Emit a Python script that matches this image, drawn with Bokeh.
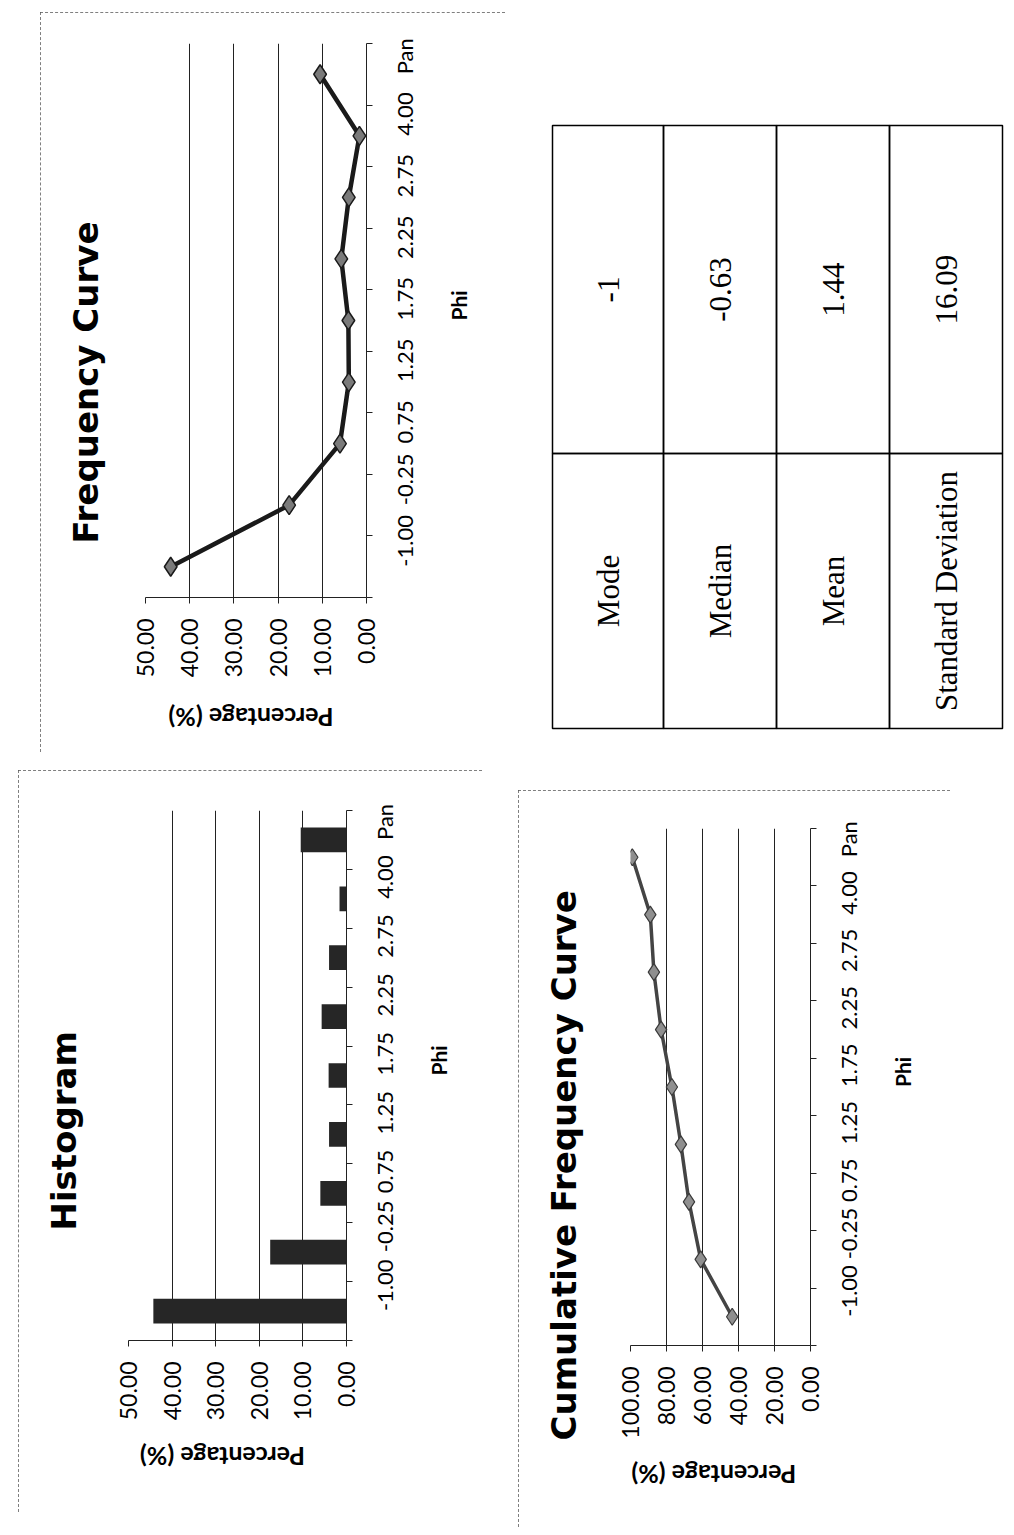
import math
from bokeh.plotting import figure
from bokeh.models import Range1d, FixedTicker, NumeralTickFormatter, Title, Spacer, LinearAxis
from bokeh.layouts import row, column
from bokeh.embed import file_html
from bokeh.resources import INLINE
from bokeh.core.properties import value

# ---------------- data ----------------
phi_labels = ["-1.00", "-0.25", "0.75", "1.25", "1.75", "2.25", "2.75", "4.00", "Pan"]
freq_pct = [44.3, 17.5, 6.0, 4.0, 4.1, 5.7, 4.0, 1.6, 10.5]
cum_pct = [43.5, 61.0, 67.5, 72.0, 77.0, 83.0, 87.0, 89.0, 99.0]
freq_ticks = [0, 10, 20, 30, 40, 50]
cum_ticks = [0, 20, 40, 60, 80, 100]
stat_names = ["Mode", "Median", "Mean", "Standard Deviation"]
stat_values = ["-1", "-0.63", "1.44", "16.09"]

FONT = "Lato"
TITLE_FONT = "DejaVu Sans"
PANEL_STYLE = {"outline": "1px dashed #555555", "outline-offset": "-1px"}
PCT_LABEL_PX = 161  # approx. drawn length of the upside-down percentage title


def make_chart(title, w, h, ml, mr, mt, mb, xmax, ticks, t_offset, t_standoff,
               plab_standoff, plab_shift):
    n = len(phi_labels)
    p = figure(width=w, height=h, x_range=Range1d(xmax, 0), y_range=Range1d(0, n),
               x_axis_location="below", y_axis_location="right",
               output_backend="svg", toolbar_location=None,
               min_border_left=ml, min_border_right=mr,
               min_border_top=mt, min_border_bottom=mb)
    p.outline_line_color = None
    p.background_fill_color = "white"
    p.border_fill_color = "white"

    xa = p.xaxis[0]
    xa.ticker = FixedTicker(ticks=ticks, minor_ticks=[])
    xa.formatter = NumeralTickFormatter(format="0.00")
    xa.major_label_orientation = math.pi / 2
    xa.major_label_text_font = FONT
    xa.major_label_text_font_size = "23px"
    xa.major_label_text_color = "black"
    xa.major_tick_out = 6
    xa.major_tick_in = 0
    xa.major_label_standoff = 15
    xa.axis_line_color = "#222222"
    xa.major_tick_line_color = "#222222"
    xa.minor_tick_line_color = None

    # upside-down title of the percentage axis (second, label-only axis below)
    frame_w = w - ml - mr
    pos = xmax / 2 + (PCT_LABEL_PX / 2 + plab_shift) / (frame_w / xmax)
    pos = min(pos, xmax * 0.995)
    ax2 = LinearAxis(ticker=FixedTicker(ticks=[pos], minor_ticks=[]),
                     major_label_overrides={pos: "Percentage (%)"},
                     major_label_orientation=math.pi,
                     axis_line_color=None, major_tick_line_color=None,
                     minor_tick_line_color=None, major_tick_out=0, major_tick_in=0,
                     major_label_standoff=plab_standoff,
                     major_label_text_font=FONT, major_label_text_font_size="25px",
                     major_label_text_font_style="bold", major_label_text_color="black")
    p.add_layout(ax2, "below")

    centers = [i + 0.5 for i in range(n)]
    ya = p.yaxis[0]
    ya.ticker = FixedTicker(ticks=centers, minor_ticks=list(range(n + 1)))
    ya.major_label_overrides = {c: lab for c, lab in zip(centers, phi_labels)}
    ya.major_label_orientation = math.pi / 2
    ya.major_label_text_font = FONT
    ya.major_label_text_font_size = "22px"
    ya.major_label_text_color = "black"
    ya.major_tick_line_color = None
    ya.major_tick_out = 0
    ya.major_tick_in = 0
    ya.minor_tick_out = 6
    ya.minor_tick_in = 0
    ya.minor_tick_line_color = "#222222"
    ya.axis_line_color = "#222222"
    ya.major_label_standoff = 32
    ya.axis_label = "Phi"
    ya.axis_label_orientation = math.pi / 2
    ya.axis_label_text_font = FONT
    ya.axis_label_text_font_size = "21px"
    ya.axis_label_text_font_style = "bold"
    ya.axis_label_text_color = "black"
    ya.axis_label_standoff = 24

    p.xgrid.ticker = FixedTicker(ticks=ticks, minor_ticks=[])
    p.xgrid.grid_line_color = "#222222"
    p.xgrid.grid_line_width = 1
    p.ygrid.visible = False

    # second (blank) line keeps the chart title away from the plot area
    t = Title(text=title + "\n ", align="left", offset=t_offset, standoff=t_standoff,
              text_font=TITLE_FONT, text_font_size="34px", text_font_style="bold",
              text_color="black")
    p.add_layout(t, "left")
    p.styles = PANEL_STYLE
    return p, centers


# Frequency curve (top left panel)
freq, cy = make_chart("Frequency Curve", 465, 740, 105, 139, 31, 155, 50, freq_ticks,
                      54, 0, 37, 7)
freq.line(x=freq_pct, y=cy, line_color="#1a1a1a", line_width=4.5)
freq.scatter(x=freq_pct, y=cy, marker="diamond", size=19, fill_color="#7a7a7a",
             line_color="#1a1a1a", line_width=1.5)

# Histogram (bottom left panel)
hist, hy = make_chart("Histogram", 464, 742, 110, 136, 40, 172, 50, freq_ticks,
                      110, 10, 33, 17)
hist.hbar(y=hy, left=0, right=freq_pct, height=0.42, fill_color="#262626", line_color=None)

# Cumulative frequency curve (bottom right panel)
cum, ccy = make_chart("Cumulative Frequency Curve", 432, 737, 112, 140, 38, 182, 100, cum_ticks,
                      -95, 14, 33, 17)
cum.line(x=cum_pct, y=ccy, line_color="#444444", line_width=3.5)
cum.scatter(x=cum_pct, y=ccy, marker="diamond", size=17, fill_color="#8f8f8f",
            line_color="#3a3a3a", line_width=1.2)

# Statistics table (top right)
TW, TH = 501, 739
tp = figure(width=TW, height=TH, x_range=Range1d(0, TW), y_range=Range1d(TH, 0),
            x_axis_location=None, y_axis_location=None, toolbar_location=None,
            output_backend="svg", min_border=0)
tp.grid.visible = False
tp.outline_line_color = None
col_edges = [47, 158, 271, 384, 497]
t_top, t_mid, t_bot = 112, 440, 715
lefts = col_edges[:-1]
rights = col_edges[1:]
xc = [(a + b) / 2 for a, b in zip(lefts, rights)]
k = len(stat_names)
tp.quad(left=lefts, right=rights, top=[t_top] * k, bottom=[t_mid] * k,
        fill_color=None, line_color="black", line_width=1.5)
tp.quad(left=lefts, right=rights, top=[t_mid] * k, bottom=[t_bot] * k,
        fill_color=None, line_color="black", line_width=1.5)
tp.text(x=xc, y=[(t_mid + t_bot) / 2] * k, text=stat_names, angle=math.pi / 2,
        text_align="center", text_baseline="middle",
        text_font=value("Liberation Serif"), text_font_size="31px", text_color="black")
tp.text(x=xc, y=[(t_top + t_mid) / 2] * k, text=stat_values, angle=math.pi / 2,
        text_align="center", text_baseline="middle",
        text_font=value("Liberation Serif"), text_font_size="31px", text_color="black")

top_row = row(Spacer(width=40, height=740), freq,
              column(Spacer(width=TW, height=1), tp))
bottom_row = row(Spacer(width=18, height=775),
                 column(Spacer(width=464, height=18), hist),
                 Spacer(width=36, height=775),
                 column(Spacer(width=432, height=38), cum))
layout = column(Spacer(width=1006, height=12), top_row, bottom_row)

open("out.html", "w").write(file_html(layout, INLINE))
